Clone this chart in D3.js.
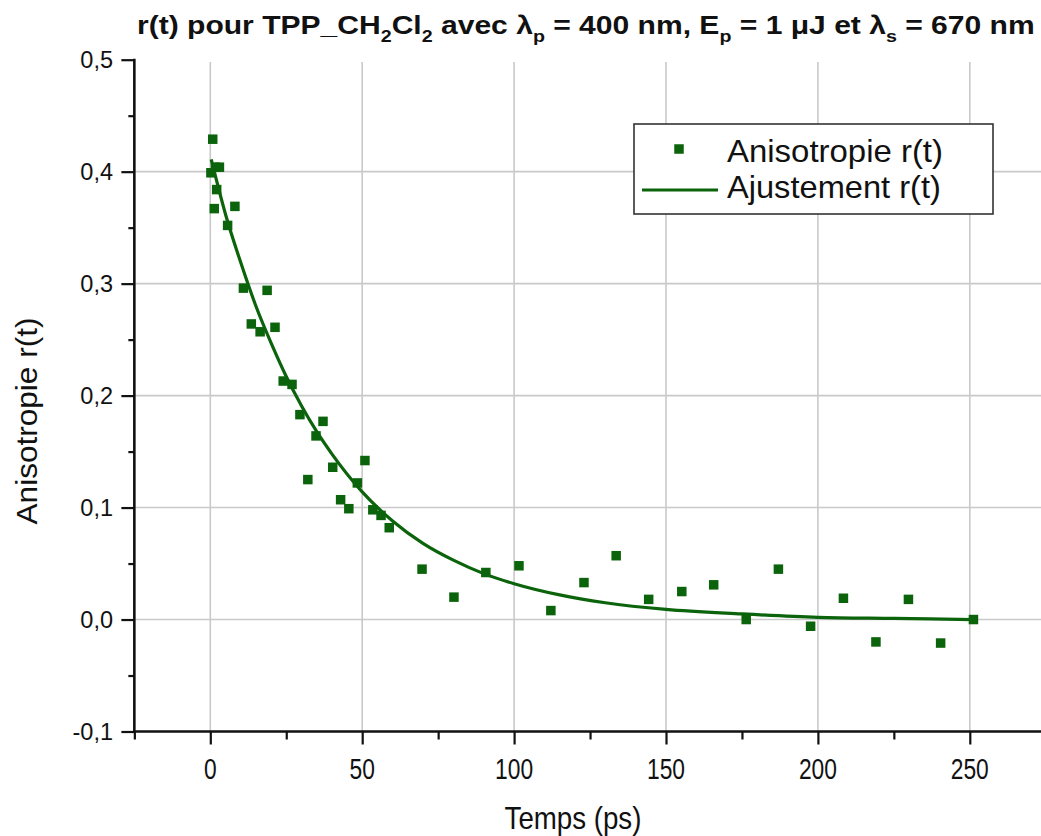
<!DOCTYPE html>
<html>
<head>
<meta charset="utf-8">
<script src="https://cdn.jsdelivr.net/npm/d3@7/dist/d3.min.js"></script>
<style>
  html, body { margin: 0; padding: 0; background: #fff; }
  svg { display: block; }
  text { font-family: "Liberation Sans", Arial, sans-serif; fill: #111; }
</style>
</head>
<body>
<svg id="chart" width="1041" height="836"></svg>
<script>
// ---------- data ----------
const timeData = [0.2, 0.8, 1.7, 3.0, 2.1, 1.3, 5.7, 8.1, 10.9, 13.5, 16.4, 18.7, 21.3, 24.0, 26.9, 29.5,
  32.1, 34.8, 37.1, 40.3, 42.9, 45.6, 48.4, 50.9, 53.5, 56.2, 58.9, 69.7, 80.2, 90.7, 101.6, 112.1,
  123.0, 133.6, 144.3, 155.2, 165.7, 176.4, 187.0, 197.6, 208.4, 219.1, 229.8, 240.4, 251.2];
const anisoData = [0.399, 0.429, 0.404, 0.404, 0.384, 0.367, 0.352, 0.369, 0.296, 0.264, 0.257, 0.294, 0.261, 0.213, 0.210, 0.183,
  0.125, 0.164, 0.177, 0.136, 0.107, 0.099, 0.122, 0.142, 0.098, 0.093, 0.082, 0.045, 0.020, 0.042, 0.048, 0.008,
  0.033, 0.057, 0.018, 0.025, 0.031, 0.000, 0.045, -0.006, 0.019, -0.020, 0.018, -0.021, 0.000];
const fitTime = [0.3, 5, 10, 15, 20, 25, 30, 35, 40, 50, 60, 70, 80, 90, 100, 115, 130, 150, 175, 200, 225, 251];
const fitValue = [0.411, 0.362, 0.319, 0.280, 0.247, 0.217, 0.191, 0.168, 0.148, 0.114, 0.088, 0.068, 0.053, 0.041,
  0.032, 0.022, 0.015, 0.009, 0.005, 0.002, 0.001, 0.000];
const xTickValues = [0, 50, 100, 150, 200, 250];
const xMinorValues = [-25, 25, 75, 125, 175, 225];
const yTickValues = [-0.1, 0.0, 0.1, 0.2, 0.3, 0.4, 0.5];
const yMinorValues = [-0.05, 0.05, 0.15, 0.25, 0.35, 0.45];
const gridXValues = [0, 50, 100, 150, 200, 250];
const gridYValues = [0.0, 0.1, 0.2, 0.3, 0.4];
const legendLabels = ["Anisotropie r(t)", "Ajustement r(t)"];

// ---------- layout ----------
const green = "#0b640b";
const svg = d3.select("#chart");
const x = d3.scaleLinear().domain([-25, 275]).range([134.35, 134.35 + 300 * 3.038]);
const y = d3.scaleLinear().domain([-0.1, 0.5]).range([731.5, 59.7]);
const plotL = x(-25), plotR = 1041, plotT = y(0.5), plotB = y(-0.1);
const fmtY = v => d3.format(".1f")(v).replace(".", ",").replace("\u2212", "-").replace("-0,0", "0,0");

function fit(sel, target, ax) {
  const w = sel.node().getBBox().width;
  const s = target / w;
  sel.attr("transform", `translate(${ax},0) scale(${s},1) translate(${-ax},0)`);
}

// grid
svg.append("g").selectAll("line").data(gridXValues).join("line")
  .attr("x1", d => x(d)).attr("x2", d => x(d)).attr("y1", 62).attr("y2", plotB)
  .attr("stroke", "#c9c9c9").attr("stroke-width", 1.6);
svg.append("g").selectAll("line").data(gridYValues).join("line")
  .attr("x1", plotL).attr("x2", plotR).attr("y1", d => y(d)).attr("y2", d => y(d))
  .attr("stroke", "#c9c9c9").attr("stroke-width", 1.6);

// axes
const xAxis = d3.axisBottom(x).tickValues(xTickValues).tickSize(13).tickFormat("");
const xAxisMinor = d3.axisBottom(x).tickValues(xMinorValues).tickSize(8).tickFormat("");
const yAxis = d3.axisLeft(y).tickValues(yTickValues).tickSize(13).tickFormat("");
const yAxisMinor = d3.axisLeft(y).tickValues(yMinorValues).tickSize(6).tickFormat("");
[[xAxis, `translate(0,${plotB})`], [xAxisMinor, `translate(0,${plotB})`],
 [yAxis, `translate(${plotL},0)`], [yAxisMinor, `translate(${plotL},0)`]].forEach(([ax, tr]) => {
  const g = svg.append("g").attr("transform", tr).call(ax);
  g.select(".domain").remove();
  g.selectAll(".tick line").attr("stroke", "#111").attr("stroke-width", 2.2);
});
svg.append("line").attr("x1", plotL - 1).attr("x2", plotR).attr("y1", plotB).attr("y2", plotB)
  .attr("stroke", "#111").attr("stroke-width", 2.6);
svg.append("line").attr("x1", plotL).attr("x2", plotL).attr("y1", plotT - 1).attr("y2", plotB + 1)
  .attr("stroke", "#111").attr("stroke-width", 2.6);

// tick labels
svg.append("g").selectAll("text").data(xTickValues).join("text")
  .attr("x", d => x(d)).attr("y", 779).attr("text-anchor", "middle")
  .attr("font-size", 30).text(d => d)
  .attr("transform", d => `translate(${x(d)},0) scale(0.76,1) translate(${-x(d)},0)`);
svg.append("g").selectAll("text").data(yTickValues).join("text")
  .attr("x", 113).attr("y", d => y(d) + 8.5).attr("text-anchor", "end")
  .attr("font-size", 23.5).text(d => fmtY(d));

// axis titles
const xt = svg.append("text").attr("x", 573).attr("y", 829).attr("text-anchor", "middle")
  .attr("font-size", 31).text("Temps (ps)");
fit(xt, 137, 573);
const ytG = svg.append("g").attr("transform", "translate(37,421) rotate(-90)");
const yt = ytG.append("text").attr("x", 0).attr("y", 0).attr("text-anchor", "middle")
  .attr("font-size", 30).text("Anisotropie r(t)");
fit(yt, 207, 0);

// title
const title = svg.append("text").attr("x", 137).attr("y", 34).attr("font-size", 26)
  .attr("font-weight", "bold");
const parts = [["r(t) pour TPP_CH", 0], ["2", 1], ["Cl", 0], ["2", 1], [" avec λ", 0], ["p", 1],
  [" = 400 nm, E", 0], ["p", 1], [" = 1 μJ et λ", 0], ["s", 1], [" = 670 nm", 0]];
let sub = 0;
parts.forEach(([t, s]) => {
  const dy = s && !sub ? 8 : (!s && sub ? -8 : 0);
  title.append("tspan").attr("dy", dy).attr("font-size", s ? 17 : 26).text(t);
  sub = s;
});
fit(title, 898, 137);

// fit curve
const line = d3.line().x((d, i) => x(fitTime[i])).y((d, i) => y(fitValue[i])).curve(d3.curveMonotoneX);
svg.append("path").datum(fitValue).attr("d", line).attr("fill", "none")
  .attr("stroke", green).attr("stroke-width", 3.2);

// data points
const ms = 9.5;
svg.append("g").selectAll("rect").data(anisoData).join("rect")
  .attr("x", (d, i) => x(timeData[i]) - ms / 2).attr("y", d => y(d) - ms / 2)
  .attr("width", ms).attr("height", ms).attr("fill", green);

// legend
const lg = svg.append("g");
lg.append("rect").attr("x", 634).attr("y", 124).attr("width", 359).attr("height", 90)
  .attr("fill", "#fff").attr("stroke", "#333").attr("stroke-width", 1.6);
lg.append("rect").attr("x", 679 - ms / 2).attr("y", 149 - ms / 2).attr("width", ms).attr("height", ms).attr("fill", green);
lg.append("line").attr("x1", 642).attr("x2", 718).attr("y1", 190).attr("y2", 190)
  .attr("stroke", green).attr("stroke-width", 3.2);
const l1 = lg.append("text").attr("x", 727).attr("y", 162).attr("font-size", 32).text(legendLabels[0]);
fit(l1, 216, 727);
const l2 = lg.append("text").attr("x", 727).attr("y", 198).attr("font-size", 32).text(legendLabels[1]);
fit(l2, 214, 727);
</script>
</body>
</html>
